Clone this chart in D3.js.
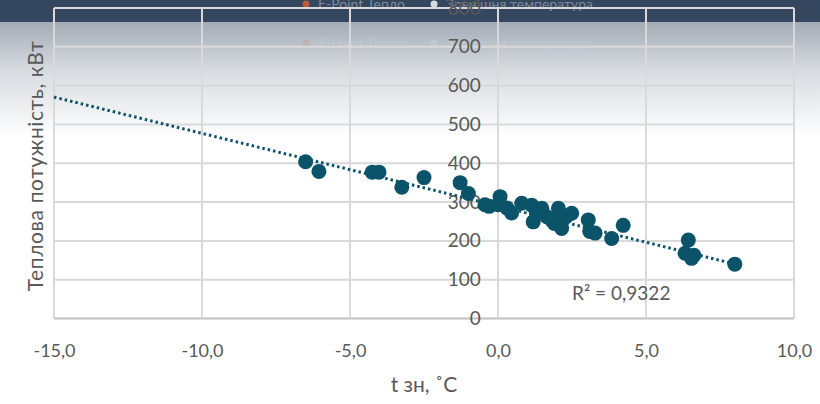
<!DOCTYPE html>
<html><head><meta charset="utf-8">
<script src="https://cdn.jsdelivr.net/npm/d3@7"></script>
<style>body{margin:0;background:#fff;}svg{display:block;font-family:Lato,"Open Sans",sans-serif;}</style>
</head><body><svg id="c" width="820" height="404"></svg>
<script>
const tempX = [-6.5,-6.05,-4.25,-4.02,-3.25,-2.5,-1.28,-1.0,-0.44,-0.3,0.07,0.0,0.3,0.46,0.8,1.14,1.19,1.3,1.48,1.65,1.81,1.9,2.04,2.04,2.15,2.3,2.49,3.05,3.1,3.28,3.84,4.23,6.43,6.32,6.54,6.62,8.0];
const powerY = [404,379,377,377,338,363,350,322,293,289,314,293,285,272,297,292,249,270,284,262,254,245,284,254,232,262,271,254,224,220,206,240,202,168,155,163,140];
const xTicks = [-15,-10,-5,0,5,10];
const yTicks = [0,100,200,300,400,500,600,700,800];
const trend = {slope:-18.7, intercept:290, from:-15, to:8};
const r2Label = "R² = 0,9322";
const xTitle = "t зн, ˚C";
const yTitle = "Теплова потужність, кВт";
const legendItems = [{name:"E-Point Тепло", color:"#e2622b"},{name:"Зовнішня температура", color:"#ffffff"}];

const svg = d3.select("#c");
const defs = svg.append("defs");
const g = defs.append("linearGradient").attr("id","bg").attr("x1",0).attr("y1",0).attr("x2",0).attr("y2",1);
g.append("stop").attr("offset","0").attr("stop-color","#a3abb6");
g.append("stop").attr("offset","0.4").attr("stop-color","#d6dadf");
g.append("stop").attr("offset","1").attr("stop-color","#ffffff");
svg.append("rect").attr("x",0).attr("y",22).attr("width",820).attr("height",115).attr("fill","url(#bg)");
svg.append("rect").attr("x",0).attr("y",0).attr("width",820).attr("height",22).attr("fill","#34475e");

// ghost legend
const lg = svg.append("g");
legendItems.forEach((d,i)=>{
  const lx = [306,434][i];
  lg.append("circle").attr("cx",lx).attr("cy",4).attr("r",3.5).attr("fill",d.color).attr("opacity",0.8);
  lg.append("text").attr("x",lx+12).attr("y",9).attr("font-size",14).attr("fill","#7d8798").text(d.name);
  lg.append("circle").attr("cx",lx).attr("cy",43).attr("r",3.5).attr("fill",d.color).attr("opacity",0.12);
  lg.append("text").attr("x",lx+12).attr("y",48).attr("font-size",14).attr("fill","#ffffff").attr("opacity",0.12).text(d.name);
});

const x = d3.scaleLinear().domain([-15,10]).range([54,794]);
const y = d3.scaleLinear().domain([0,800]).range([318.5,8]);

// gridlines
svg.append("g").selectAll("line").data(yTicks).join("line")
  .attr("x1",x(-15)).attr("x2",x(10)).attr("y1",d=>y(d)).attr("y2",d=>y(d))
  .attr("stroke",d=>d===0?"#bfbfbf":"#d9d9d9").attr("stroke-width",2);
svg.append("g").selectAll("line").data(xTicks).join("line")
  .attr("x1",d=>x(d)).attr("x2",d=>x(d)).attr("y1",y(0)).attr("y2",y(800))
  .attr("stroke","#d9d9d9").attr("stroke-width",2);

// x axis labels
const fmtX = d => d.toFixed(1).replace(".",",");
const xa = svg.append("g").attr("transform",`translate(0,${y(0)})`)
  .call(d3.axisBottom(x).tickValues(xTicks).tickSize(0).tickPadding(26).tickFormat(fmtX));
xa.select(".domain").remove();
xa.selectAll("text").attr("font-size",18).attr("fill","#595959").attr("font-family","Lato,sans-serif");

// y axis labels
const ya = svg.append("g").attr("transform",`translate(${x(-0.55)},0)`)
  .call(d3.axisLeft(y).tickValues(yTicks).tickSize(0).tickPadding(1).tickFormat(d=>String(d)));
ya.select(".domain").remove();
ya.selectAll("text").attr("font-size",19).attr("fill","#595959").attr("font-family","Lato,sans-serif");

// trendline
svg.append("line")
  .attr("x1",x(trend.from)).attr("y1",y(trend.intercept+trend.slope*trend.from))
  .attr("x2",x(trend.to)).attr("y2",y(trend.intercept+trend.slope*trend.to))
  .attr("stroke","#0b5369").attr("stroke-width",3).attr("stroke-dasharray","2.5 3");

// points
svg.append("g").selectAll("circle").data(tempX.map((v,i)=>[v,powerY[i]])).join("circle")
  .attr("cx",d=>x(d[0])).attr("cy",d=>y(d[1])).attr("r",7.5).attr("fill","#0b5369");

svg.append("text").attr("x",572).attr("y",300).attr("font-size",19).attr("fill","#595959").text(r2Label);

svg.append("text").attr("x",424).attr("y",392).attr("text-anchor","middle").attr("font-size",21).attr("fill","#595959").text(xTitle);
svg.append("text").attr("transform","translate(43,166) rotate(-90)").attr("text-anchor","middle").attr("font-size",21).attr("letter-spacing",0.6).attr("fill","#595959").text(yTitle);
</script></body></html>
